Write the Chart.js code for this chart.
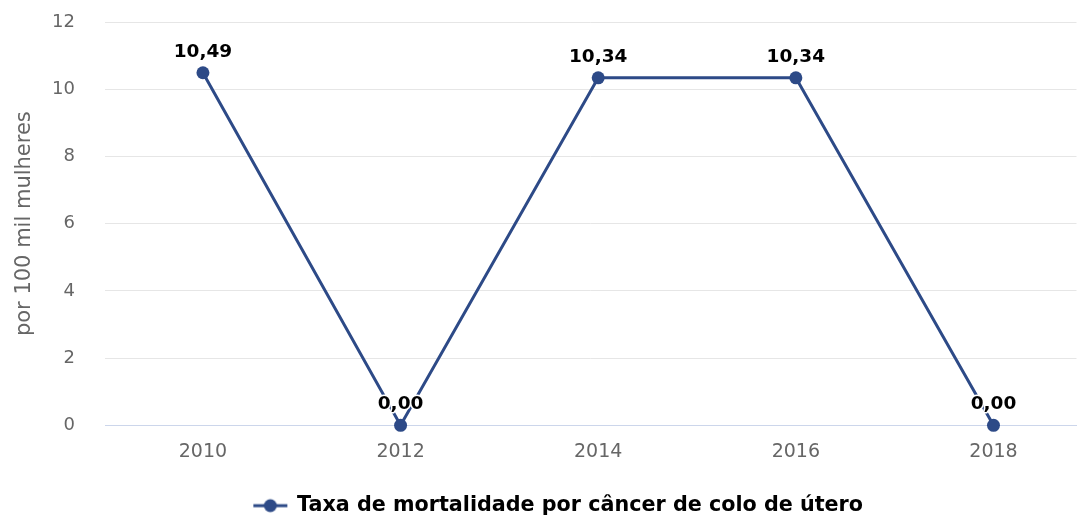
<!DOCTYPE html>
<html>
<head>
<meta charset="utf-8">
<script src="https://cdn.jsdelivr.net/npm/chart.js@4"></script>
<style>
  body { margin: 0; background: #fff; }
</style>
</head>
<body>
<canvas id="myChart" width="1083" height="516"></canvas>
<script>
// data
var years = [2010, 2012, 2014, 2016, 2018];
var taxa = [10.49, 0.00, 10.34, 10.34, 0.00];
var yTicks = [0, 2, 4, 6, 8, 10, 12];
var serieNome = 'Taxa de mortalidade por câncer de colo de útero';

var corLinha = '#2d4a87';
var fonte = '"DejaVu Sans", sans-serif';

// legend symbol: line with a dot, highcharts style
// (extra transparent room on the left pushes the legend a bit to the right)
var simbolo = document.createElement('canvas');
simbolo.width = 58;
simbolo.height = 16;
var sctx = simbolo.getContext('2d');
sctx.strokeStyle = corLinha;
sctx.lineWidth = 3;
sctx.beginPath();
sctx.moveTo(23, 8);
sctx.lineTo(57, 8);
sctx.stroke();
sctx.fillStyle = corLinha;
sctx.beginPath();
sctx.arc(40, 8, 6.5, 0, Math.PI * 2);
sctx.fill();

// value labels above each point
var rotulos = {
    id: 'rotulos',
    afterDatasetsDraw: function (chart) {
        var ctx = chart.ctx;
        var meta = chart.getDatasetMeta(0);
        ctx.save();
        ctx.font = 'bold 18.5px ' + fonte;
        ctx.textAlign = 'center';
        ctx.textBaseline = 'middle';
        ctx.lineJoin = 'round';
        meta.data.forEach(function (pt, i) {
            var txt = taxa[i].toFixed(2).replace('.', ',');
            var y = pt.y - 21;
            ctx.strokeStyle = '#ffffff';
            ctx.lineWidth = 3;
            ctx.strokeText(txt, pt.x, y);
            ctx.fillStyle = '#000000';
            ctx.fillText(txt, pt.x, y);
        });
        ctx.restore();
    }
};

var ctx = document.getElementById('myChart').getContext('2d');
var chart = new Chart(ctx, {
    type: 'line',
    data: {
        datasets: [{
            label: serieNome,
            data: years.map(function (a, i) { return { x: a, y: taxa[i] }; }),
            borderColor: corLinha,
            backgroundColor: corLinha,
            borderWidth: 3,
            pointRadius: 6.5,
            pointHoverRadius: 6.5,
            pointBackgroundColor: corLinha,
            pointBorderWidth: 0,
            tension: 0,
            clip: false
        }]
    },
    options: {
        responsive: false,
        animation: false,
        layout: {
            padding: { top: 22, right: 0, bottom: -10, left: 12 }
        },
        scales: {
            x: {
                type: 'linear',
                min: 2009.009,
                max: 2018.84,
                afterBuildTicks: function (axis) {
                    axis.ticks = years.map(function (a) { return { value: a }; });
                },
                afterFit: function (axis) {
                    axis.height = 69;
                    axis.paddingLeft = 0;
                    axis.paddingRight = 0;
                },
                grid: { display: false, drawTicks: false },
                border: { display: true, color: '#ccd6eb', width: 1 },
                ticks: {
                    color: '#666666',
                    font: { family: fonte, size: 19 },
                    padding: 15,
                    callback: function (v) { return String(v); }
                }
            },
            y: {
                min: 0,
                max: 12,
                afterBuildTicks: function (axis) {
                    axis.ticks = yTicks.map(function (v) { return { value: v }; });
                },
                afterFit: function (axis) {
                    axis.width = 93;
                    axis.paddingTop = 0;
                    axis.paddingBottom = 0;
                },
                grid: { color: '#e6e6e6', drawTicks: false },
                border: { display: false },
                ticks: {
                    color: '#666666',
                    font: { family: fonte, size: 18 },
                    padding: 30
                },
                title: {
                    display: true,
                    text: 'por 100 mil mulheres',
                    color: '#666666',
                    font: { family: fonte, size: 21 },
                    padding: { top: 0, bottom: 0 }
                }
            }
        },
        plugins: {
            tooltip: { enabled: false },
            legend: {
                position: 'bottom',
                labels: {
                    color: '#333333',
                    font: { family: fonte, size: 20.7, weight: 'bold' },
                    usePointStyle: true,
                    pointStyleWidth: 54.7,
                    padding: 1,
                    generateLabels: function (c) {
                        return [{
                            text: serieNome,
                            pointStyle: simbolo,
                            fillStyle: corLinha,
                            strokeStyle: corLinha,
                            lineWidth: 0,
                            datasetIndex: 0
                        }];
                    }
                }
            }
        }
    },
    plugins: [rotulos]
});
</script>
</body>
</html>
